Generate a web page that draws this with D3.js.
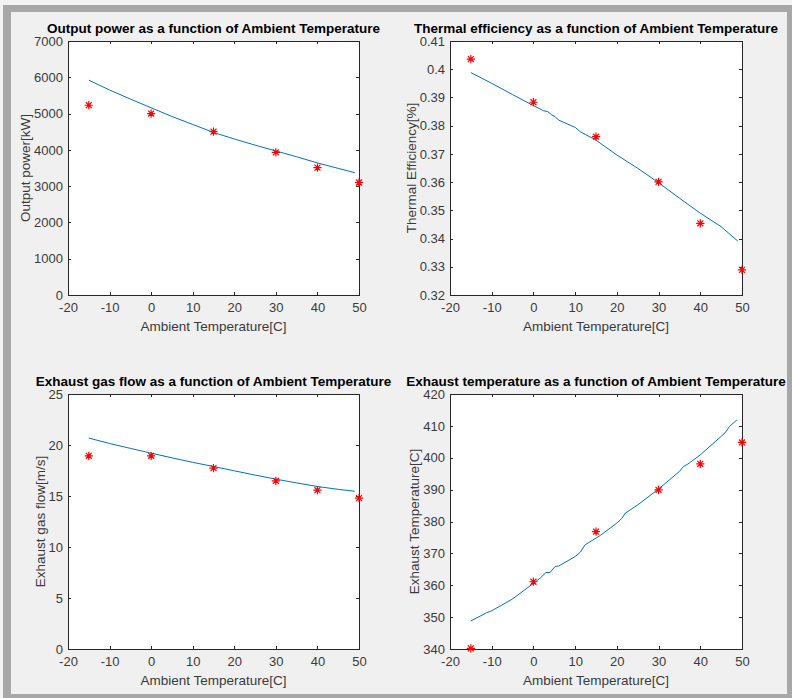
<!DOCTYPE html>
<html>
<head>
<meta charset="utf-8">
<script src="https://cdn.jsdelivr.net/npm/d3@7"></script>
<style>
body { margin: 0; background: #f0f0f0; }
svg { display: block; font-family: "Liberation Sans", Arial, sans-serif; }
</style>
</head>
<body>
<div id="fig"></div>
<script>
// measured points (red asterisks)
var tempPoints = [-15, 0, 15, 30, 40, 50];
var powerPoints = [5230, 5000, 4500, 3930, 3510, 3100];
var effPoints = [0.4036, 0.3883, 0.3761, 0.3601, 0.3454, 0.3289];
var flowPoints = [18.94, 18.94, 17.73, 16.49, 15.57, 14.79];
var exhTempPoints = [340.2, 361.1, 376.8, 389.9, 398.1, 404.8];

// model curves (blue lines)
var curveTemps = [-15, -10, -5, 0, 5, 10, 15, 20, 25, 30, 35, 40, 45, 49];
var powerCurve = [5920, 5650, 5400, 5160, 4920, 4700, 4480, 4300, 4130, 3970, 3810, 3640, 3490, 3370];
var flowCurve = [20.68, 20.15, 19.67, 19.2, 18.74, 18.3, 17.89, 17.47, 17.05, 16.65, 16.28, 15.93, 15.65, 15.47];

var effCurveTemps = [-15, -10, -5, 0, 2.4, 3.4, 4.4, 5.2, 6, 10, 11.2, 12.4, 15, 16, 20, 25, 30, 35, 40, 45, 49];
var effCurve = [0.3988, 0.3950, 0.3910, 0.3871, 0.3853, 0.3850, 0.3838, 0.3832, 0.3820, 0.3794, 0.3779, 0.3769,
  0.3749, 0.3738, 0.3696, 0.3649, 0.3598, 0.3543, 0.3490, 0.3442, 0.3391];

var exhCurveTemps = [-15, -11.2, -10, -5, 0, 1.6, 3, 4, 5.2, 6, 10, 11.2, 12.4, 15, 16, 20, 21.2, 22, 25, 30, 35, 36, 37, 40, 45, 46, 47, 48.8];
var exhCurve = [348.8, 351.4, 352.0, 355.7, 360.6, 362.2, 364.0, 364.0, 365.9, 366.0, 369.0, 370.3, 372.7, 374.8, 375.6,
  379.5, 381.0, 382.6, 385.2, 390.2, 395.7, 397.3, 398.0, 400.9, 406.7, 407.9, 409.8, 411.9];

// ticks
var xTicks = [-20, -10, 0, 10, 20, 30, 40, 50];
var powerTicks = [0, 1000, 2000, 3000, 4000, 5000, 6000, 7000];
var effTicks = [0.32, 0.33, 0.34, 0.35, 0.36, 0.37, 0.38, 0.39, 0.4, 0.41];
var flowTicks = [0, 5, 10, 15, 20, 25];
var exhTicks = [340, 350, 360, 370, 380, 390, 400, 410, 420];

var width = 792;
var height = 698;

var svg = d3.select('#fig')
  .append('svg')
  .attr('width', width)
  .attr('height', height);

// window frame
svg.append('rect').attr('width', width).attr('height', height).attr('fill', '#f3f3f3');
svg.append('rect').attr('x', 3).attr('y', 5).attr('width', width - 3).attr('height', height - 5).attr('fill', '#a8a8a8');
svg.append('rect').attr('x', 11).attr('y', 12).attr('width', 776).attr('height', 682).attr('fill', '#f0f0f0');

// MATLAB style '*' marker: plus + cross
var asterisk = {
  draw: function(ctx, size) {
    var r = Math.sqrt(size) / 2;
    var d = r * 0.72;
    ctx.moveTo(-r, 0); ctx.lineTo(r, 0);
    ctx.moveTo(0, -r); ctx.lineTo(0, r);
    ctx.moveTo(-d, -d); ctx.lineTo(d, d);
    ctx.moveTo(-d, d); ctx.lineTo(d, -d);
  }
};

var panels = [
  { left: 68, right: 359, top: 41, bottom: 295, domain: [0, 7000], ticks: powerTicks,
    title: 'Output power as a function of Ambient Temperature', ylabel: 'Output power[kW]',
    ct: curveTemps, cv: powerCurve, pv: powerPoints },
  { left: 450, right: 742, top: 41, bottom: 295, domain: [0.32, 0.41], ticks: effTicks,
    title: 'Thermal efficiency as a function of Ambient Temperature', ylabel: 'Thermal Efficiency[%]',
    ct: effCurveTemps, cv: effCurve, pv: effPoints },
  { left: 68, right: 359, top: 394, bottom: 649, domain: [0, 25], ticks: flowTicks,
    title: 'Exhaust gas flow as a function of Ambient Temperature', ylabel: 'Exhaust gas flow[m/s]',
    ct: curveTemps, cv: flowCurve, pv: flowPoints },
  { left: 450, right: 742, top: 394, bottom: 649, domain: [340, 420], ticks: exhTicks,
    title: 'Exhaust temperature as a function of Ambient Temperature', ylabel: 'Exhaust Temperature[C]',
    ct: exhCurveTemps, cv: exhCurve, pv: exhTempPoints }
];

var axisColor = '#262626';
var textColor = '#3a3a3a';

panels.forEach(function(p) {
  var x = d3.scaleLinear().domain([-20, 50]).range([p.left, p.right]);
  var y = d3.scaleLinear().domain(p.domain).range([p.bottom, p.top]);
  var g = svg.append('g');

  g.append('rect')
    .attr('x', p.left).attr('y', p.top)
    .attr('width', p.right - p.left).attr('height', p.bottom - p.top)
    .attr('fill', '#fff');

  var fmt = function(d) { return String(+d.toFixed(2)); };

  var xb = g.append('g').attr('transform', 'translate(0,' + p.bottom + ')')
    .call(d3.axisBottom(x).tickValues(xTicks).tickSizeInner(-3).tickSizeOuter(0).tickPadding(8).tickFormat(fmt));
  var xt = g.append('g').attr('transform', 'translate(0,' + p.top + ')')
    .call(d3.axisTop(x).tickValues(xTicks).tickSizeInner(-3).tickSizeOuter(0).tickFormat(''));
  var yl = g.append('g').attr('transform', 'translate(' + p.left + ',0)')
    .call(d3.axisLeft(y).tickValues(p.ticks).tickSizeInner(-3).tickSizeOuter(0).tickPadding(5).tickFormat(fmt));
  var yr = g.append('g').attr('transform', 'translate(' + p.right + ',0)')
    .call(d3.axisRight(y).tickValues(p.ticks).tickSizeInner(-3).tickSizeOuter(0).tickFormat(''));

  [xb, xt, yl, yr].forEach(function(a) {
    a.select('.domain').remove();
    a.selectAll('line').attr('stroke', axisColor).attr('shape-rendering', 'crispEdges');
    a.selectAll('text').attr('fill', textColor).style('font-size', '13px')
      .style('font-family', '"Liberation Sans", Arial, sans-serif');
  });

  // box
  g.append('rect')
    .attr('x', p.left).attr('y', p.top)
    .attr('width', p.right - p.left).attr('height', p.bottom - p.top)
    .attr('fill', 'none').attr('stroke', axisColor).attr('stroke-width', 1)
    .attr('shape-rendering', 'crispEdges');

  // model curve
  var line = d3.line()
    .x(function(d, i) { return x(p.ct[i]); })
    .y(function(d) { return y(d); });
  g.append('path')
    .datum(p.cv)
    .attr('d', line)
    .attr('fill', 'none')
    .attr('stroke', '#0072BD')
    .attr('stroke-width', 1);

  // measured points
  g.selectAll('.pt')
    .data(p.pv)
    .enter()
    .append('path')
    .attr('class', 'pt')
    .attr('transform', function(d, i) { return 'translate(' + x(tempPoints[i]) + ',' + y(d) + ')'; })
    .attr('d', d3.symbol().type(asterisk).size(68))
    .attr('fill', 'none')
    .attr('stroke', '#ff0000')
    .attr('stroke-width', 1.2);

  // labels
  var maxW = 0;
  yl.selectAll('text').each(function() { maxW = Math.max(maxW, this.getComputedTextLength()); });

  g.append('text')
    .attr('transform', 'translate(' + (p.left - 5 - maxW - 4) + ',' + ((p.top + p.bottom) / 2) + ') rotate(-90)')
    .attr('text-anchor', 'middle')
    .attr('fill', textColor)
    .style('font-size', '13.5px')
    .text(p.ylabel);

  g.append('text')
    .attr('x', (p.left + p.right) / 2)
    .attr('y', p.bottom + 36)
    .attr('text-anchor', 'middle')
    .attr('fill', textColor)
    .style('font-size', '13.5px')
    .text('Ambient Temperature[C]');

  g.append('text')
    .attr('x', (p.left + p.right) / 2)
    .attr('y', p.top - 8)
    .attr('text-anchor', 'middle')
    .attr('fill', '#000')
    .style('font-size', '13.5px')
    .style('font-weight', 'bold')
    .text(p.title);
});
</script>
</body>
</html>
